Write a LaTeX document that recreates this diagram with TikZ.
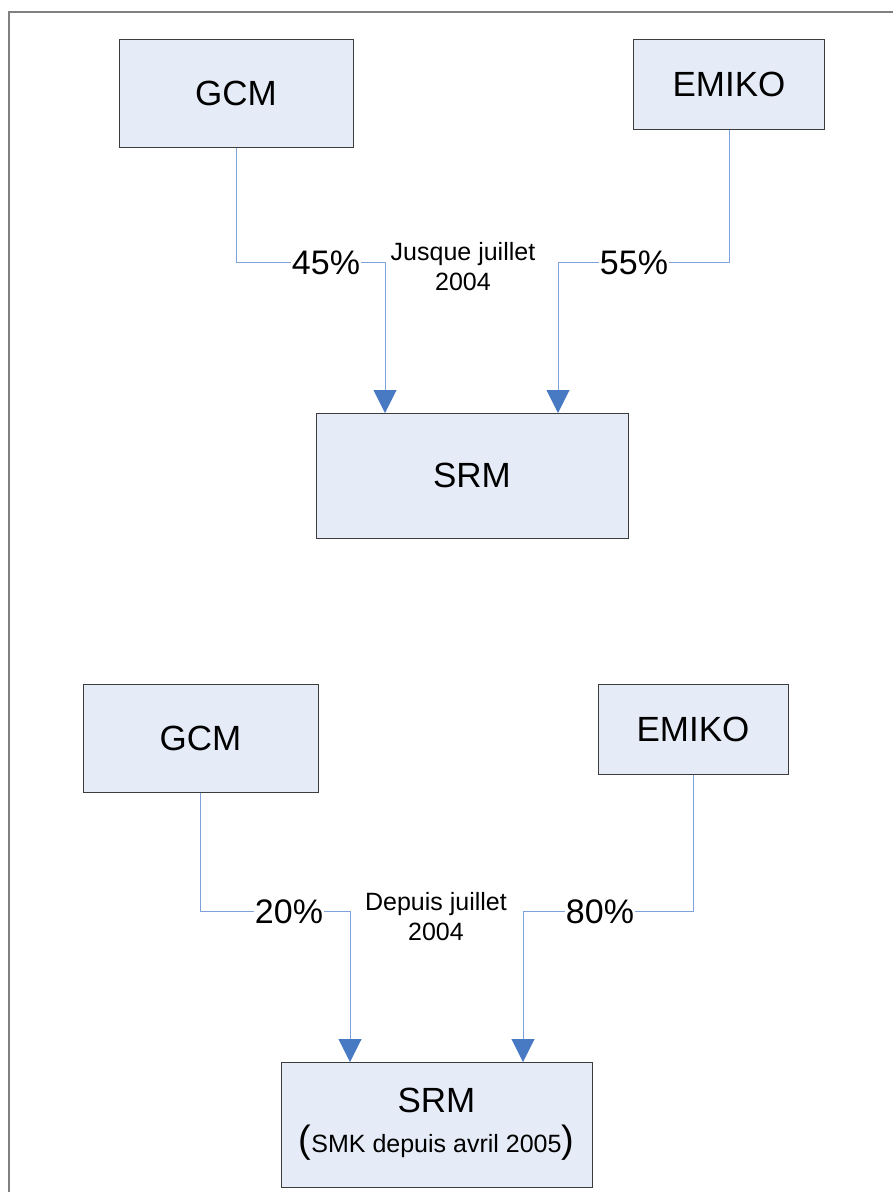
\documentclass[tikz,border=0pt]{standalone}
\usepackage{fontspec}
\setmainfont{Liberation Sans}
\usetikzlibrary{arrows.meta}
\definecolor{boxfill}{RGB}{230, 236, 247}
\definecolor{boxline}{RGB}{60, 60, 60}
\definecolor{linkblue}{RGB}{125, 163, 218}
\definecolor{tipblue}{RGB}{72, 122, 196}
\definecolor{framegray}{RGB}{128, 128, 128}

\begin{document}
\begin{tikzpicture}[x=1pt, y=-1pt,
    box/.style={draw=boxline, line width=1pt, fill=boxfill, inner sep=0pt,
        font=\fontsize{35}{40}\selectfont},
    pct/.style={fill=white, inner sep=1pt, text height=24pt, text depth=0pt,
        font=\fontsize{34}{40}\selectfont},
    note/.style={align=center, inner sep=0pt, font=\fontsize{25}{30}\selectfont},
    link/.style={draw=linkblue, line width=1pt},
    >={Triangle[width=23pt, length=23pt, color=tipblue]}]
\useasboundingbox (0,0) rectangle (893,1192);
\draw[framegray, line width=2pt] (900,12) -- (9,12) -- (9,1200);

% jusque juillet 2004
\node[box, minimum width=234pt, minimum height=108pt] (gcma) at (236,93) {GCM};
\node[box, minimum width=191pt, minimum height=90pt] (emikoa) at (729,84) {EMIKO};
\node[box, minimum width=312pt, minimum height=125pt] (srma) at (472,475.5) {SRM};
\node[pct] (pa) at (326,262) {45\%};
\node[pct] (pb) at (634,262) {55\%};
\node[note] (datea) at (463,267) {Jusque juillet\\2004};
\coordinate (ina) at (385,413);
\coordinate (inb) at (558,413);
\draw[link] (gcma.south) |- (pa.west);
\draw[link, ->] (pa.east) -| (ina);
\draw[link] (emikoa.south) |- (pb.east);
\draw[link, ->] (pb.west) -| (inb);

% depuis juillet 2004
\node[box, minimum width=235pt, minimum height=108pt] (gcmb) at (200.5,738) {GCM};
\node[box, minimum width=190pt, minimum height=90pt] (emikob) at (693,729) {EMIKO};
\node[box, minimum width=311pt, minimum height=125pt, align=center] (srmb) at (436.5,1124.5)
    {\raisebox{-4pt}{SRM}\\[4pt]{\fontsize{25}{30}\selectfont{\fontsize{38}{30}\selectfont(}SMK depuis avril 2005{\fontsize{38}{30}\selectfont)}}};
\node[pct] (pc) at (289,911) {20\%};
\node[pct] (pd) at (600,911) {80\%};
\node[note] (dateb) at (436,917) {Depuis juillet\\2004};
\coordinate (inc) at (350,1062);
\coordinate (ind) at (523,1062);
\draw[link] (gcmb.south) |- (pc.west);
\draw[link, ->] (pc.east) -| (inc);
\draw[link] (emikob.south) |- (pd.east);
\draw[link, ->] (pd.west) -| (ind);
\end{tikzpicture}
\end{document}
